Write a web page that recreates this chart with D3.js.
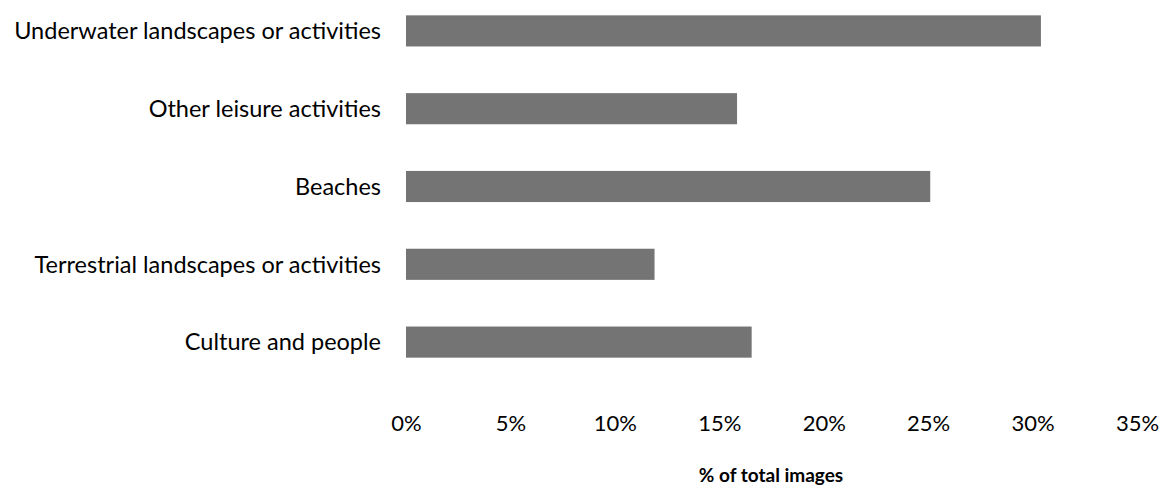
<!DOCTYPE html>
<html>
<head>
<meta charset="utf-8">
<script src="https://cdn.jsdelivr.net/npm/d3@7"></script>
<style>
  body { margin: 0; background: #fff; }
  text { font-family: Lato, "Open Sans", sans-serif; fill: #000; }
</style>
</head>
<body>
<svg width="1160" height="486"></svg>
<script>
var categories = ['Underwater landscapes or activities', 'Other leisure activities', 'Beaches',
                  'Terrestrial landscapes or activities', 'Culture and people'];
var values = [30.4, 15.85, 25.1, 11.9, 16.55];
var tickValues = [0, 5, 10, 15, 20, 25, 30, 35];
var axisTitle = '% of total images';

var svg = d3.select('svg');

var x = d3.scaleLinear().domain([0, 35]).range([406, 1137]);
var y = d3.scaleBand().domain(categories).range([-8, 381])
    .paddingInner(0.6).paddingOuter(0.3);

// bars
svg.selectAll('.bar')
    .data(categories)
    .enter()
    .append('rect')
    .attr('class', 'bar')
    .attr('x', x(0))
    .attr('y', function(d) { return y(d); })
    .attr('width', function(d, i) { return x(values[i]) - x(0); })
    .attr('height', y.bandwidth())
    .attr('fill', '#747474');

// category labels
svg.selectAll('.cat')
    .data(categories)
    .enter()
    .append('text')
    .attr('class', 'cat')
    .attr('x', 381)
    .attr('y', function(d) { return y(d) + y.bandwidth() / 2; })
    .attr('dy', '0.35em')
    .attr('text-anchor', 'end')
    .style('font-size', '23.5px')
    .text(function(d) { return d; });

// x axis, no line, just labels
var xAxis = d3.axisBottom(x).tickValues(tickValues)
    .tickSize(0)
    .tickFormat(function(d) { return d + '%'; });

var gx = svg.append('g')
    .attr('transform', 'translate(0,412)')
    .call(xAxis);
gx.select('.domain').remove();
gx.selectAll('text')
    .style('font-size', '22px')
    .style('font-family', 'Lato, sans-serif')
    .attr('fill', '#000');

svg.append('text')
    .attr('x', 771)
    .attr('y', 482)
    .attr('text-anchor', 'middle')
    .style('font-size', '19px')
    .style('font-weight', 'bold')
    .text(axisTitle);
</script>
</body>
</html>
